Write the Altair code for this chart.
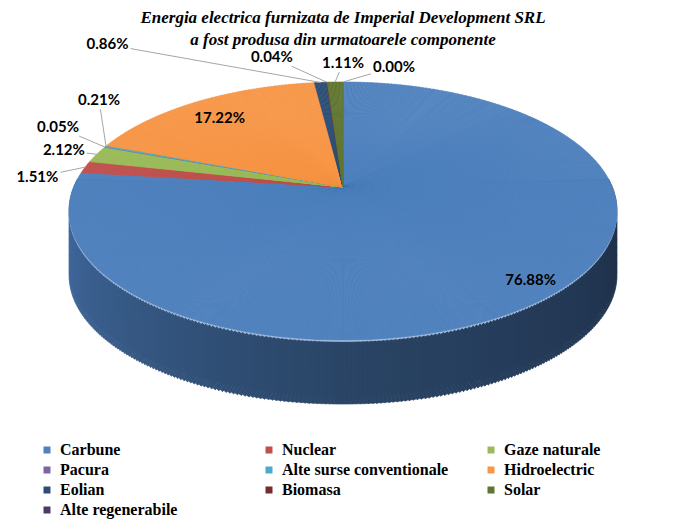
import math
import altair as alt
import pandas as pd

# ---- data ----
categories = ["Carbune", "Nuclear", "Gaze naturale", "Pacura", "Alte surse conventionale",
              "Hidroelectric", "Eolian", "Biomasa", "Solar", "Alte regenerabile"]
shares = [76.88, 1.51, 2.12, 0.05, 0.21, 17.22, 0.86, 0.04, 1.11, 0.00]
colors = ["#4F81BD", "#C0504D", "#9BBB59", "#8064A2", "#4BACC6",
          "#F79646", "#2C4D75", "#772C2A", "#5F7530", "#4D3B62"]
title_lines = ["Energia electrica furnizata de Imperial Development SRL",
               "a fost produsa din urmatoarele componente"]

# value-label placement: offset from the slice's rim point, and leader line on/off
label_dx = [-20, -48, -33, -47, -7, 22, -213, -55, 8, 51]
label_dy = [-15, 10, -4, -20, -46, 16, -38, -25, -19, -15]
label_leader = [False, True, True, True, True, False, True, True, True, True]

# ---- layout / 3-D projection of the pie disc ----
W, H = 673, 513
CX, CY = 335, 179          # pie centre (plot coords)
A, B, K = 269.2, 124.5, 0.186
DEPTH = 64
S_TOP, S_WALL = 0.1, 0.2


def project(v):
    t = v / 100 * 2 * math.pi
    d = 1 + K * math.cos(t)
    return A * math.sin(t) / d, -B * math.cos(t) / d


grid = [i * 0.5 for i in range(201)]
phis, radii = [], []
for v in grid:
    dx, dy = project(v)
    phi = math.atan2(dx, -dy)
    if phi < 0:
        phi += 2 * math.pi
    if v >= 100:
        phi = 2 * math.pi
    phis.append(phi)
    radii.append(math.hypot(dx, dy))

theta_scale = alt.Scale(type="linear", domain=grid, range=phis, nice=False, zero=False)
radius_scale = alt.Scale(type="linear", domain=grid, range=radii, nice=False, zero=False)
color_scale = alt.Scale(domain=categories, range=colors)
wall_scale = alt.Scale(type="linear", domain=[25, 50, 72],
                       range=["#1E2F47", "#2A4566", "#41699D"], clamp=True)

df = pd.DataFrame({
    "cat": categories, "value": shares, "i": list(range(len(categories))),
    "ndx": label_dx, "ndy": label_dy, "leader": label_leader,
})

base = alt.Chart(df).transform_window(
    cend="sum(value)", sort=[alt.SortField("i")], frame=[None, 0]
).transform_calculate(cstart="datum.cend - datum.value")


def pieces(step):
    return base.transform_calculate(
        idx=f"sequence(0, ceil(datum.value / {step}))"
    ).transform_flatten(["idx"]).transform_calculate(
        start=f"datum.cstart + datum.idx * {step}",
        end=f"min(datum.cstart + (datum.idx + 1) * {step}, datum.cend)",
    ).transform_calculate(mid="(datum.start + datum.end) / 2")


def arc_enc():
    return dict(
        theta=alt.Theta("start:Q", scale=theta_scale),
        theta2="end:Q",
        radius=alt.Radius("mid:Q", scale=radius_scale),
        radius2=alt.value(0),
        x=alt.value(CX),
    )


legend = alt.Legend(
    orient="none", legendX=31, legendY=434, columns=3, direction="horizontal",
    gridAlign="all", columnPadding=34, rowPadding=4, symbolType="square",
    symbolSize=49, symbolStrokeWidth=0, labelFont="Liberation Serif",
    labelFontSize=16, labelFontWeight="bold", labelColor="black", labelOffset=5,
    labelLimit=240, title=None,
)

front = pieces(S_WALL).transform_filter("datum.mid >= 24 && datum.mid <= 76")

wall_layers = [
    front.mark_arc(strokeWidth=0.7).encode(
        fill=alt.Fill("mid:Q", scale=wall_scale, legend=None),
        stroke=alt.Stroke("mid:Q", scale=wall_scale, legend=None),
        y=alt.value(CY + off),
        **arc_enc(),
    )
    for off in range(DEPTH, -1, -8)
]

edge = front.mark_arc(fill="#A9C1E2", stroke="#A9C1E2", strokeWidth=0.5).encode(
    y=alt.value(CY + 1.5), **arc_enc()
)

top = pieces(S_TOP).mark_arc(strokeWidth=0.6).encode(
    color=alt.Color("cat:N", scale=color_scale, legend=legend, sort=categories),
    stroke=alt.Stroke("cat:N", scale=color_scale, legend=None),
    y=alt.value(CY),
    **arc_enc(),
)

anchors = base.transform_calculate(
    mid="datum.cend - datum.value / 2",
    th="datum.mid / 100 * 2 * PI",
    dd=f"1 + {K} * cos(datum.th)",
    ax=f"{CX} + {A} * sin(datum.th) / datum.dd",
    ay=f"{CY} - {B} * cos(datum.th) / datum.dd",
    lx="datum.ax + datum.ndx",
    ly="datum.ay + datum.ndy",
    label="format(datum.value, '.2f') + '%'",
)

leaders = anchors.transform_filter("datum.leader").transform_calculate(
    t="min(23 / max(abs(datum.ndx), 0.001), 9 / max(abs(datum.ndy), 0.001))",
    ex="datum.lx - datum.ndx * datum.t",
    ey="datum.ly - datum.ndy * datum.t",
).mark_rule(color="#A6A6A6", strokeWidth=1).encode(
    x=alt.X("ax:Q", scale=None, axis=None),
    y=alt.Y("ay:Q", scale=None, axis=None),
    x2="ex:Q",
    y2="ey:Q",
)

labels = anchors.mark_text(
    font="Lato", fontSize=15, fontWeight="bold", color="black",
    align="center", baseline="middle",
).encode(
    x=alt.X("lx:Q", scale=None, axis=None),
    y=alt.Y("ly:Q", scale=None, axis=None),
    text="label:N",
)

title = alt.Chart(pd.DataFrame({"k": [0]})).mark_text(
    text=title_lines, font="Liberation Serif", fontSize=17, fontWeight="bold",
    fontStyle="italic", lineHeight=22, align="center", baseline="middle",
    color="black",
).encode(x=alt.value(CX), y=alt.value(10))

chart = alt.layer(*wall_layers, edge, top, leaders, labels, title).resolve_scale(
    theta="independent", radius="independent", color="independent",
    fill="independent", stroke="independent",
).properties(
    width=W, height=H, autosize=alt.AutoSizeParams(type="none"), padding=0,
).configure_view(stroke=None)

chart.save("out.html", embed_options={"renderer": "svg", "actions": False})
